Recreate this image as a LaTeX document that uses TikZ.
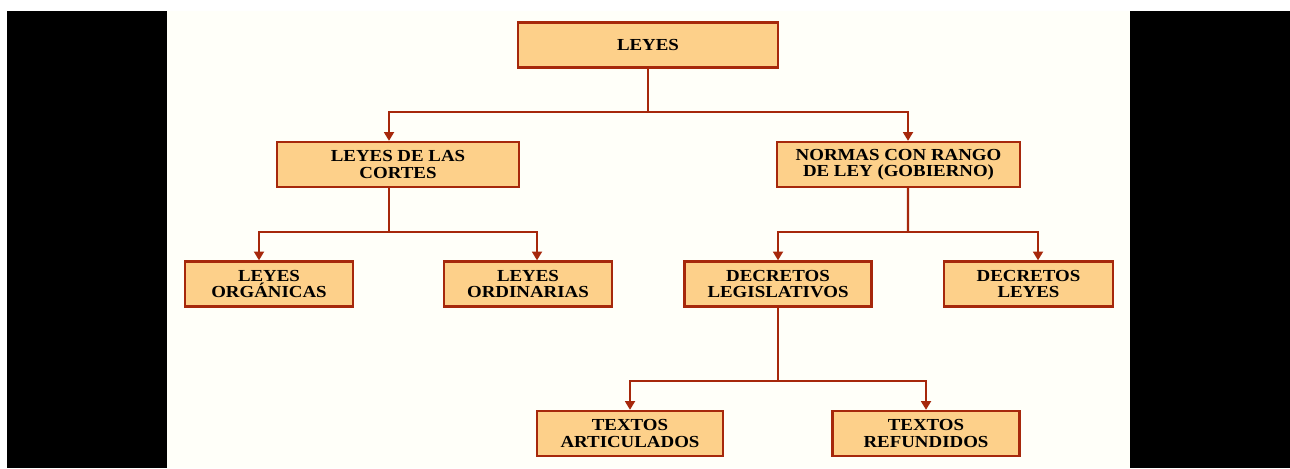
\documentclass[tikz,border=0pt]{standalone}
\usepackage{fontspec}
\setmainfont{Liberation Serif}[FakeStretch=1.12]
\usepackage{tikz}
\usetikzlibrary{arrows.meta}
\usetikzlibrary{calc,positioning}

\definecolor{boxfill}{RGB}{253,208,138}
\definecolor{boxline}{RGB}{166,40,12}
\definecolor{paper}{RGB}{255,255,249}

\begin{document}
\begin{tikzpicture}[x=0.02cm,y=-0.02cm,>={Triangle[width=5.6pt,length=5pt]},
    leybox/.style={draw=boxline, line width=1.3pt, fill=boxfill, align=center,
        minimum height=45*0.02cm, inner sep=0pt,
        font=\fontsize{9.6}{9.4}\selectfont\bfseries},
    link/.style={draw=boxline, line width=1.4pt}]
    % frame of the slide
    \fill[white] (0,0) rectangle (1290,468);
    \useasboundingbox (0,0) rectangle (1290,468);
    \fill[black] (7,11) rectangle (167,468);
    \fill[black] (1130,11) rectangle (1290,468);
    \fill[paper] (167,11) rectangle (1130,468);

    % boxes
    \node[leybox, minimum width=260*0.02cm] (leyes) at (648,45) {LEYES};
    \node[leybox, minimum width=242*0.02cm] (cortes) at (398,164.5) {LEYES DE LAS\\CORTES};
    \node[leybox, minimum width=243*0.02cm] (normas) at (898.5,164.5) {NORMAS CON RANGO\\DE LEY (GOBIERNO)};
    \node[leybox, minimum width=168*0.02cm] (organicas) at (269,284) {LEYES\\ORGÁNICAS};
    \node[leybox, minimum width=168*0.02cm] (ordinarias) at (528,284) {LEYES\\ORDINARIAS};
    \node[leybox, minimum width=187*0.02cm] (legislativos) at (778,284) {DECRETOS\\LEGISLATIVOS};
    \node[leybox, minimum width=169*0.02cm] (decleyes) at (1028.5,284) {DECRETOS\\LEYES};
    \node[leybox, minimum width=186*0.02cm] (articulados) at (630,433.5) {TEXTOS\\ARTICULADOS};
    \node[leybox, minimum width=187*0.02cm] (refundidos) at (926,433.5) {TEXTOS\\REFUNDIDOS};

    % branch points
    \coordinate (j1) at (648,112);
    \coordinate (j2) at (389,232);
    \coordinate (j3) at (908,232);
    \coordinate (j4) at (778,381);

    \draw[link] (leyes.south) -- (j1);
    \draw[link,->] (j1) -| ($(cortes.north)+(-9,0)$);
    \draw[link,->] (j1) -| ($(normas.north)+(9.5,0)$);

    \draw[link] ($(cortes.south)+(-9,0)$) -- (j2);
    \draw[link,->] (j2) -| ($(organicas.north)+(-10,0)$);
    \draw[link,->] (j2) -| ($(ordinarias.north)+(9,0)$);

    \draw[link] ($(normas.south)+(9.5,0)$) -- (j3);
    \draw[link,->] (j3) -| (legislativos.north);
    \draw[link,->] (j3) -| ($(decleyes.north)+(9.5,0)$);

    \draw[link] (legislativos.south) -- (j4);
    \draw[link,->] (j4) -| (articulados.north);
    \draw[link,->] (j4) -| (refundidos.north);
\end{tikzpicture}
\end{document}
